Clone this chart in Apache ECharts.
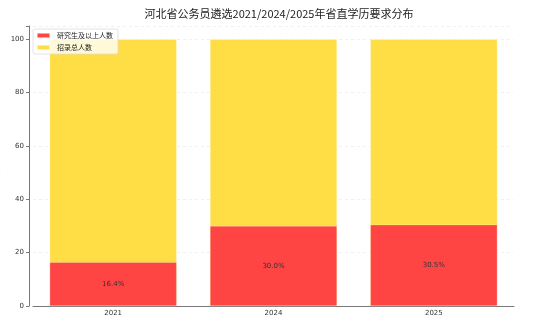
<!DOCTYPE html>
<html>
<head>
<meta charset="utf-8">
<script src="https://cdn.jsdelivr.net/npm/echarts@6/dist/echarts.min.js"></script>
<style>
  html, body { margin: 0; padding: 0; background: #fff; }
  #chart { width: 554px; height: 322px; }
</style>
</head>
<body>
<div id="chart"></div>
<script>
const years = ['2021', '2024', '2025'];
const gradShare = [16.4, 30.0, 30.5];   // 研究生及以上人数 占比
const totalShare = [100, 100, 100];     // 招录总人数
const yTicks = [0, 20, 40, 60, 80, 100];

const cjk = '"Noto Sans CJK SC", "DejaVu Sans", sans-serif';
const chart = echarts.init(document.getElementById('chart'));

chart.setOption({
  animation: false,
  title: {
    text: '河北省公务员遴选2021/2024/2025年省直学历要求分布',
    left: 274,
    textAlign: 'center',
    top: 3,
    textStyle: { fontFamily: cjk, fontSize: 11, fontWeight: 'normal', color: '#222' }
  },
  legend: {
    data: ['研究生及以上人数', '招录总人数'],
    orient: 'vertical',
    left: 33,
    top: 29,
    padding: [3, 5, 3, 3],
    itemWidth: 13,
    itemHeight: 5,
    itemGap: 5,
    backgroundColor: 'rgba(255,255,255,0.8)',
    borderColor: '#ddd',
    borderWidth: 0.8,
    borderRadius: 2,
    textStyle: { fontFamily: cjk, fontSize: 7, color: '#222', padding: [0, 0, 0, 2] }
  },
  // plot area kept a bit narrower so bars sit where matplotlib's margins put them
  grid: { left: 33, right: 40, top: 26, bottom: 16, outerBoundsMode: 'none', containLabel: false },
  xAxis: {
    type: 'category',
    data: years,
    axisLine: { lineStyle: { color: '#777', width: 1 } },
    axisTick: { alignWithLabel: true, length: 3, lineStyle: { color: '#777' } },
    axisLabel: { fontFamily: 'DejaVu Sans', fontSize: 7, color: '#333', margin: 4 }
  },
  yAxis: {
    type: 'value',
    min: 0,
    max: 105,
    interval: 20,
    offset: 4,
    name: '占比 (%)',
    nameLocation: 'middle',
    nameGap: 20,
    nameTextStyle: { fontFamily: cjk, fontSize: 7, color: '#333' },
    axisLine: { show: true, lineStyle: { color: '#777', width: 1 } },
    axisTick: { show: true, length: 3, lineStyle: { color: '#777' } },
    axisLabel: {
      fontFamily: 'DejaVu Sans', fontSize: 7, color: '#333', margin: 5,
      formatter: v => (yTicks.includes(v) ? String(v) : '')
    },
    splitLine: { show: true, lineStyle: { color: '#e6e6e6', type: [3, 3], width: 0.6 } }
  },
  series: [
    {
      name: '招录总人数',
      type: 'bar',
      data: totalShare,
      barWidth: 127,
      barGap: '-100%',
      z: 1,
      itemStyle: { color: '#ffdd44', borderColor: 'rgba(255,255,255,0.5)', borderWidth: 0.5 }
    },
    {
      name: '研究生及以上人数',
      type: 'bar',
      data: gradShare,
      barWidth: 127,
      barGap: '-100%',
      z: 2,
      itemStyle: { color: '#ff4444', borderColor: 'rgba(255,255,255,0.5)', borderWidth: 0.5 },
      label: {
        show: true,
        position: 'inside',
        formatter: p => p.value.toFixed(1) + '%',
        fontFamily: 'DejaVu Sans',
        fontSize: 7,
        color: '#333'
      }
    }
  ]
});
</script>
</body>
</html>
